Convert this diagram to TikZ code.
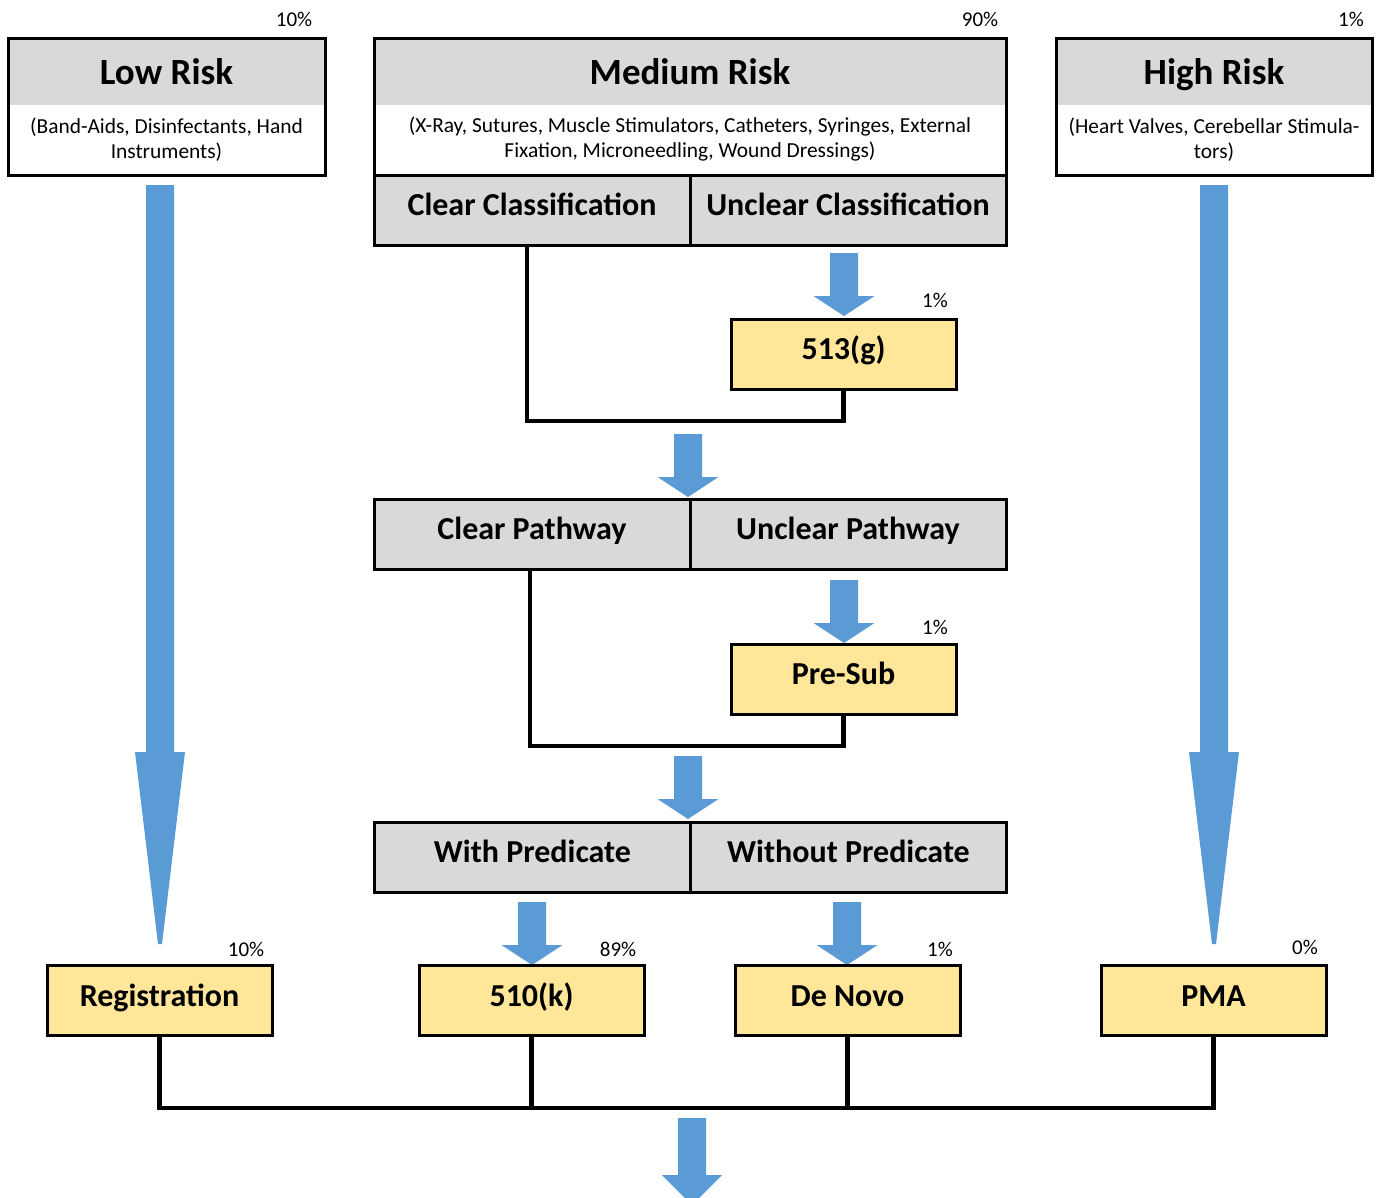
\documentclass[tikz,border=0pt]{standalone}
\usepackage{fontspec}
\setmainfont{Carlito}
\definecolor{hdr}{HTML}{D9D9D9}
\definecolor{blu}{HTML}{5B9BD5}
\definecolor{yel}{HTML}{FFE699}
\begin{document}
\begin{tikzpicture}[x=1pt,y=-1pt,
  title/.style={inner sep=0pt, outer sep=0pt, fill=hdr, text height=24pt, text depth=0pt, font=\fontsize{37}{44}\selectfont\bfseries},
  sub/.style={inner sep=0pt, outer sep=0pt, fill=white, align=center, font=\fontsize{21.4}{25}\selectfont},
  cell/.style={draw=black, line width=3pt, inner sep=0pt, outer sep=0pt, fill=hdr, minimum width=316, minimum height=70, text height=11pt, text depth=0pt, font=\fontsize{32}{38}\selectfont\bfseries},
  ybox/.style={draw=black, line width=3pt, inner sep=0pt, outer sep=0pt, fill=yel, minimum width=225, minimum height=70, text height=11pt, text depth=0pt, font=\fontsize{32}{38}\selectfont\bfseries},
  pct/.style={inner sep=0pt, font=\fontsize{21}{24}\selectfont},
  frame/.style={draw=black, line width=3pt},
  conn/.style={draw=black, line width=4.5pt},
  pics/barrow/.style={code={\fill[blu] (-14,0) -- (14,0) -- (14,43) -- (30.5,43) -- (0,63) -- (-30.5,43) -- (-14,43) -- cycle;}},
  pics/longarrow/.style={code={\fill[blu] (-14,0) -- (14,0) -- (14,567) -- (25,567) -- (2,759) -- (-2,759) -- (-25,567) -- (-14,567) -- cycle;}}
]
\useasboundingbox (0,0) rectangle (1376,1197);
\clip (0,0) rectangle (1376,1197);
\fill[white] (0,0) rectangle (1376,1197);

% Low risk
\node[title, minimum width=317, minimum height=68] (lowhead) at (166.5,72) {Low Risk};
\node[sub, minimum width=317, minimum height=69] (lowbody) at (166.5,139.5) {(Band-Aids, Disinfectants, Hand\\Instruments)};
\draw[frame] (lowhead.north west) rectangle ([yshift=-1pt]lowbody.south east);

% Medium risk
\node[title, minimum width=632, minimum height=68] (medhead) at (690,72) {Medium Risk};
\node[sub, minimum width=632, minimum height=69] (medbody) at (690,139.5) {(X-Ray, Sutures, Muscle Stimulators, Catheters, Syringes, External\\Fixation, Microneedling, Wound Dressings)};
\node[cell] (clearc) at (532,210) {Clear Classification};
\node[cell] (unclearc) at (848,210) {Unclear Classification};
\draw[frame] (medhead.north west) rectangle ([yshift=-1pt]medbody.south east);

% High risk
\node[title, minimum width=316, minimum height=68] (highhead) at (1214,72) {High Risk};
\node[sub, minimum width=316, minimum height=69] (highbody) at (1214,139.5) {(Heart Valves, Cerebellar Stimula-\\tors)};
\draw[frame] (highhead.north west) rectangle ([yshift=-1pt]highbody.south east);

% top percentages
\node[pct] (p1) at (294,19) {10\%};
\node[pct] (p2) at (980,19) {90\%};
\node[pct] (p3) at (1351,19) {1\%};

% 513(g)
\node[ybox] (g513) at (843.5,354) {513(g)};
\node[pct] (p4) at (935,300) {1\%};
\pic at (844,253) {barrow};
\draw[conn] (g513.south) -- ++(0,32) -| ([xshift=-5pt]clearc.south);

% Pathway row
\pic at (688,434) {barrow};
\node[cell] (clearp) at (532,534) {Clear Pathway};
\node[cell] (unclearp) at (848,534) {Unclear Pathway};

% Pre-Sub
\pic at (844,580) {barrow};
\node[ybox] (presub) at (843.5,679) {Pre-Sub};
\node[pct] (p5) at (935,627) {1\%};
\draw[conn] (presub.south) -- ++(0,32) -| ([xshift=-2pt]clearp.south);

% Predicate row
\pic at (688,756) {barrow};
\node[cell] (withp) at (532.5,857) {With Predicate};
\node[cell] (withoutp) at (848.5,857) {Without Predicate};

\pic at (532,902) {barrow};
\pic at (847,902) {barrow};

% long arrows
\pic at (160,185) {longarrow};
\pic at (1214,185) {longarrow};

% bottom boxes
\node[ybox] (reg) at (159.5,1000.5) {Registration};
\node[ybox] (k510) at (531.5,1000.5) {510(k)};
\node[ybox] (denovo) at (847.5,1000.5) {De Novo};
\node[ybox] (pma) at (1213.5,1000.5) {PMA};
\node[pct] (p6) at (246,949) {10\%};
\node[pct] (p7) at (618,949) {89\%};
\node[pct] (p8) at (940,949) {1\%};
\node[pct] (p9) at (1305,947) {0\%};

\coordinate (bus) at (0,1108);
\draw[conn] (reg.south) -- (reg.south |- bus) -- (pma.south |- bus) -- (pma.south);
\draw[conn] (k510.south) -- (k510.south |- bus);
\draw[conn] (denovo.south) -- (denovo.south |- bus);

% bottom arrow
\fill[blu] (678,1118) -- (706,1118) -- (706,1175) -- (722,1175) -- (692,1205) -- (662,1175) -- (678,1175) -- cycle;
\end{tikzpicture}
\end{document}
